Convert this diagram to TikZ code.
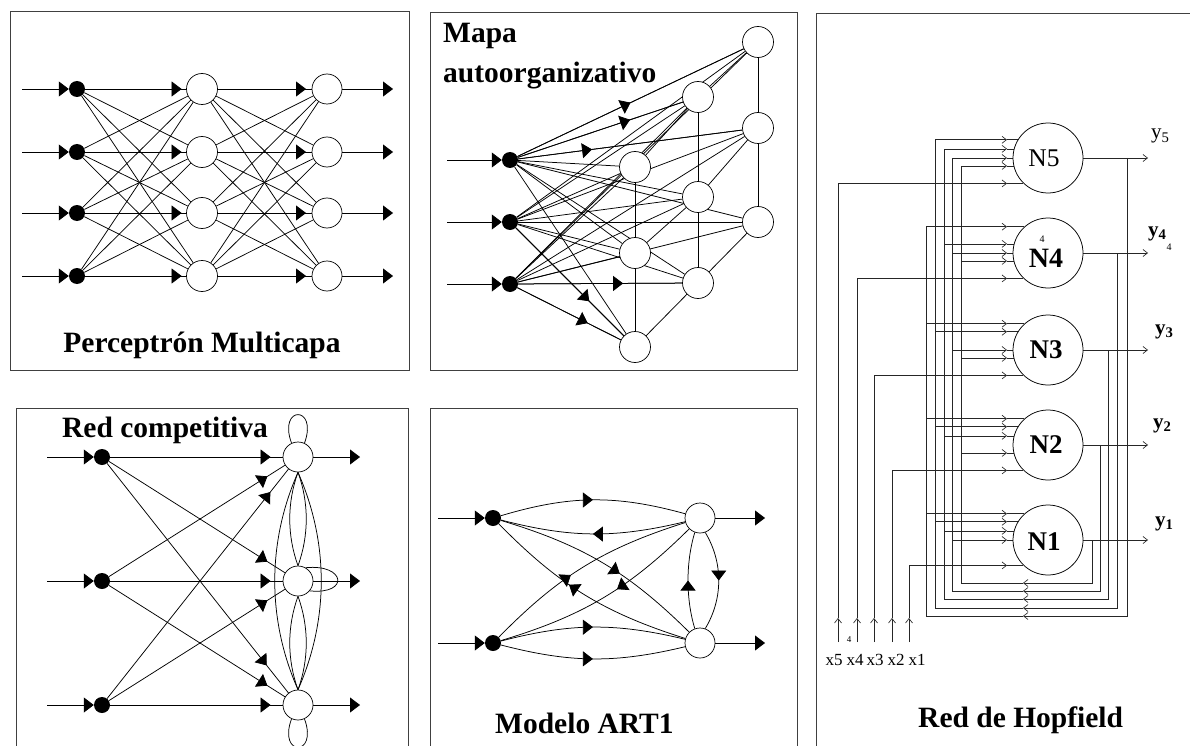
\documentclass[tikz,border=0pt]{standalone}
\usepackage{fontspec}
\setmainfont{Liberation Serif}
\usetikzlibrary{arrows.meta,decorations.markings,calc}
\pgfdeclarelayer{bg}
\pgfsetlayers{bg,main}
\tikzset{
  tarr/.style={-{Triangle[length=10pt,width=15pt]}},
  barr/.style={-{Straight Barb[length=4.5pt,width=7pt]}},
  panel/.style={draw=black!75,line width=0.9pt},
  conn/.style={draw=black,line width=0.75pt},
  hw/.style={draw=black!85,line width=0.65pt},
  dotn/.style={circle,fill=black,minimum size=16pt,inner sep=0pt},
  neu/.style={circle,draw=black,line width=0.7pt,fill=white,minimum size=31pt,inner sep=0pt},
  hop/.style={circle,draw=black,line width=0.75pt,fill=white,minimum size=70pt,inner sep=0pt},
  marr/.style={postaction={decorate,decoration={markings,mark=at position #1 with {\arrow{Triangle[length=10pt,width=15pt]}}}}},
  marrr/.style={postaction={decorate,decoration={markings,mark=at position #1 with {\arrowreversed{Triangle[length=10pt,width=15pt]}}}}},
  ttl/.style={font=\fontsize{29.5}{32}\selectfont\bfseries,inner sep=0pt},
  nlab/.style={font=\fontsize{27}{28}\selectfont\bfseries,inner sep=0pt},
}
\begin{document}
\begin{tikzpicture}[x=1pt,y=-1pt]
\useasboundingbox (0,0) rectangle (1190,746);
% ---------------- nodes ----------------
% Perceptron
\foreach \i/\y in {1/89,2/152,3/213,4/276}{
  \node[dotn] (p\i) at (77,\y) {};
  \node[neu] (h\i) at (202,\y) {};
  \node[neu,minimum size=30pt] (o\i) at (327,\y) {};
  \coordinate (pin\i) at (22,\y);
  \coordinate (pout\i) at (393,\y);
}
\node[ttl,anchor=base] (t1) at (202,352) {Perceptrón Multicapa};
% Mapa
\foreach \i/\y in {1/160,2/222,3/284}{
  \node[dotn] (m\i) at (510,\y) {};
  \coordinate (min\i) at (447,\y);
}
\node[neu] (mA) at (758,42) {};
\node[neu] (mB) at (758,128) {};
\node[neu] (mC) at (758,222) {};
\node[neu] (mD) at (698,97) {};
\node[neu] (mE) at (698,197) {};
\node[neu] (mF) at (698,283) {};
\node[neu] (mG) at (635,167) {};
\node[neu] (mH) at (635,253) {};
\node[neu] (mI) at (635,347) {};
\node[ttl,anchor=base west] (t2a) at (443,43) {Mapa};
\node[ttl,anchor=base west] (t2b) at (443,83) {autoorganizativo};
% Competitive
\foreach \i/\y in {1/457,2/581,3/705}{
  \node[dotn] (k\i) at (102,\y) {};
  \node[neu,minimum size=30pt] (q\i) at (298,\y) {};
  \coordinate (kin\i) at (47,\y);
  \coordinate (kout\i) at (360,\y);
}
\node[ttl,anchor=base west] (t3) at (62,437) {Red competitiva};
% ART1
\foreach \i/\y in {1/518,2/643}{
  \node[dotn] (a\i) at (493,\y) {};
  \node[neu,minimum size=30pt] (r\i) at (700,\y) {};
  \coordinate (ain\i) at (438,\y);
  \coordinate (aout\i) at (765,\y);
}
\node[ttl,anchor=base west] (t4) at (495,733) {Modelo ART1};
% Hopfield
\node[hop] (N5) at (1048,158) {};
\node[hop] (N4) at (1048,253) {};
\node[hop] (N3) at (1048,350) {};
\node[hop] (N2) at (1048,445) {};
\node[hop] (N1) at (1048,540) {};
\node[font=\fontsize{25.5}{26}\selectfont,inner sep=0pt] (l5) at (1044,158) {N5};
\node[font=\fontsize{28}{30}\selectfont\bfseries,inner sep=0pt] (l4) at (1046,258) {N4};
\node[font=\fontsize{10}{10}\selectfont,inner sep=0pt] (l4s) at (1042,239) {4};
\node[nlab] (l3) at (1046,350) {N3};
\node[nlab] (l2) at (1046,445) {N2};
\node[nlab] (l1) at (1044,542) {N1};
\node[ttl,anchor=base west] (t5) at (918,727) {Red de Hopfield};
% output labels
\node[font=\fontsize{21}{21}\selectfont,inner sep=0pt,anchor=base west] (y5) at (1151,139) {y\textsubscript{5}};
\node[font=\fontsize{21}{21}\selectfont\bfseries,inner sep=0pt,anchor=base west] (y4) at (1148,236) {y\textsubscript{4}};
\node[font=\fontsize{10}{10}\selectfont,inner sep=0pt] (y4s) at (1169,247) {4};
\node[font=\fontsize{21}{21}\selectfont\bfseries,inner sep=0pt,anchor=base west] (y3) at (1155,334) {y\textsubscript{3}};
\node[font=\fontsize{21}{21}\selectfont\bfseries,inner sep=0pt,anchor=base west] (y2) at (1153,428) {y\textsubscript{2}};
\node[font=\fontsize{21}{21}\selectfont\bfseries,inner sep=0pt,anchor=base west] (y1) at (1155,526) {y\textsubscript{1}};
% input labels
\foreach \n/\xx in {5/834,4/855,3/875,2/896,1/917}{
  \node[font=\fontsize{17}{17}\selectfont,inner sep=0pt,anchor=base] (lx\n) at (\xx,665) {x\n};
}
\node[font=\fontsize{9}{9}\selectfont,inner sep=0pt] (lx4s) at (849,640) {4};
% Hopfield coordinates
\coordinate (L5) at (926,0); \coordinate (L4) at (935,0); \coordinate (L3) at (944,0);
\coordinate (L2) at (952,0); \coordinate (L1) at (961,0);
\coordinate (R1) at (1092,0); \coordinate (R2) at (1100,0); \coordinate (R3) at (1108,0);
\coordinate (R4) at (1117,0); \coordinate (R5) at (1127,0);
\coordinate (Ar) at (1007,0);
\coordinate (Al) at (1023,0);
\coordinate (Out) at (1148,0);

\begin{pgfonlayer}{bg}
\fill[white] (0,0) rectangle (1190,746);
% panels
\draw[panel] (10,11) rectangle (409,370);
\draw[panel] (430,12) rectangle (797,370);
\draw[panel] (16,746) -- (16,408) -- (408,408) -- (408,746);
\draw[panel] (430,746) -- (430,408) -- (797,408) -- (797,746);
\draw[panel] (816,746) -- (816,13) -- (1190,13);

% ---- Perceptron ----
\foreach \i in {1,...,4}{
  \draw[conn,tarr] (pin\i) -- (p\i);
  \draw[conn,tarr] (o\i) -- (pout\i);
  \foreach \j in {1,...,4}{
    \ifnum\i=\j
      \draw[conn,marr=0.955] (p\i) -- (h\j);
      \draw[conn,marr=0.94] (h\i) -- (o\j);
    \else
      \draw[conn] (p\i) -- (h\j);
      \draw[conn] (h\i) -- (o\j);
    \fi
  }
}

% ---- Mapa ----
\foreach \i in {1,2,3}{
  \draw[conn,tarr] (min\i) -- (m\i);
  \foreach \n in {A,B,C,D,E,F,G,H,I}{
    \draw[conn] (m\i) -- (m\n);
  }
}
\foreach \u/\v in {G/H,H/I,D/E,E/F,A/B,B/C,G/D,D/A,H/E,E/B,I/F,F/C}{
  \draw[conn] (m\u) -- (m\v);
}
\draw[conn,marr=0.50] (m1) -- (mA);
\draw[conn,marr=0.68] (m1) -- (mD);
\draw[conn,marr=0.33] (m1) -- (mB);
\draw[conn,marr=0.64] (m3) -- (mF);
\draw[conn,marr=0.68] (m2) -- (mI);
\draw[conn,marr=0.68] (m3) -- (mI);

% ---- Competitive ----
\foreach \i in {1,2,3}{
  \draw[conn,tarr] (kin\i) -- (k\i);
  \draw[conn,tarr] (q\i) -- (kout\i);
}
\draw[conn,marr=0.93] (k1) -- (q1);
\draw[conn,marr=0.93] (k2) -- (q2);
\draw[conn,marr=0.93] (k3) -- (q3);
\draw[conn,marr=0.90] (k1) -- (q2);
\draw[conn,marr=0.88] (k1) -- (q3);
\draw[conn,marr=0.90] (k2) -- (q1);
\draw[conn,marr=0.90] (k2) -- (q3);
\draw[conn,marr=0.90] (k3) -- (q1);
\draw[conn,marr=0.90] (k3) -- (q2);
\draw[conn] (q1.115) .. controls +(-14,-38) and +(14,-38) .. (q1.65);
\draw[conn] (q3.245) .. controls +(-14,38) and +(14,38) .. (q3.295);
\draw[conn] (q2.60) .. controls +(40,-4) and +(40,4) .. (q2.-40);
\draw[conn] (q1.south) .. controls +(-11,30) and +(-11,-30) .. (q2.north);
\draw[conn] (q1.south) .. controls +(11,30) and +(11,-30) .. (q2.north);
\draw[conn] (q2.south) .. controls +(-11,30) and +(-11,-30) .. (q3.north);
\draw[conn] (q2.south) .. controls +(11,30) and +(11,-30) .. (q3.north);
\draw[conn] (q1.south) .. controls +(-31,70) and +(-31,-70) .. (q3.north);
\draw[conn] (q1.south) .. controls +(31,70) and +(31,-70) .. (q3.north);

% ---- ART1 ----
\foreach \i in {1,2}{
  \draw[conn,tarr] (ain\i) -- (a\i);
  \draw[conn,tarr] (r\i) -- (aout\i);
}
\draw[conn,marr=0.5] (a1) to[bend left=16] (r1);
\draw[conn,marrr=0.5] (a1) to[bend right=14] (r1);
\draw[conn,marr=0.5] (a2) to[bend left=14] (r2);
\draw[conn,marr=0.5] (a2) to[bend right=14] (r2);
\draw[conn,marr=0.43] (a2) to[bend left=14] (r1);
\draw[conn,marrr=0.575] (a2) to[bend right=14] (r1);
\draw[conn,marr=0.59] (a1) to[bend left=14] (r2);
\draw[conn,marrr=0.42] (a1) to[bend right=14] (r2);
\draw[conn,marrr=0.5] (r1.250) .. controls +(-9,30) and +(-9,-30) .. (r2.110);
\draw[conn,marr=0.5] (r1.290) .. controls +(18,30) and +(18,-30) .. (r2.70);

% ---- Hopfield ----
% feedback inputs
\foreach \k/\ak in {5/132,4/149,3/165,2/180,1/193}{
  \foreach \j in {1,...,5}{
    \ifnum\j=\k\relax\else
      \draw[hw,barr] (N\j.\ak -| L\k) -- (N\j.\ak -| Ar);
      \draw[hw] (N\j.\ak -| Ar) -- (N\j.\ak);
    \fi
  }
}
% outputs and feedback loops
\foreach \k/\yb/\t/\at in {5/616/4/132,4/608/5/149,3/599/5/165,2/591/5/180,1/583/5/193}{
  \coordinate (B\k) at (0,\yb);
  \draw[hw,barr] (N\k.east) -- (N\k.east -| Out);
  \draw[hw,barr] (N\k.east -| R\k) |- (Al |- B\k);
  \draw[hw] (Al |- B\k) -| (N\t.\at -| L\k);
}
% external inputs
\foreach \k/\xx in {5/838,4/857,3/874,2/892,1/909}{
  \coordinate (XB\k) at (\xx,642);
  \coordinate (XM\k) at (\xx,618);
  \draw[hw,barr] (XB\k) -- (XM\k);
  \draw[hw,barr] (XM\k) |- (N\k.226 -| Ar);
  \draw[hw] (N\k.226 -| Ar) -- (N\k.226);
}
\end{pgfonlayer}
\end{tikzpicture}
\end{document}
